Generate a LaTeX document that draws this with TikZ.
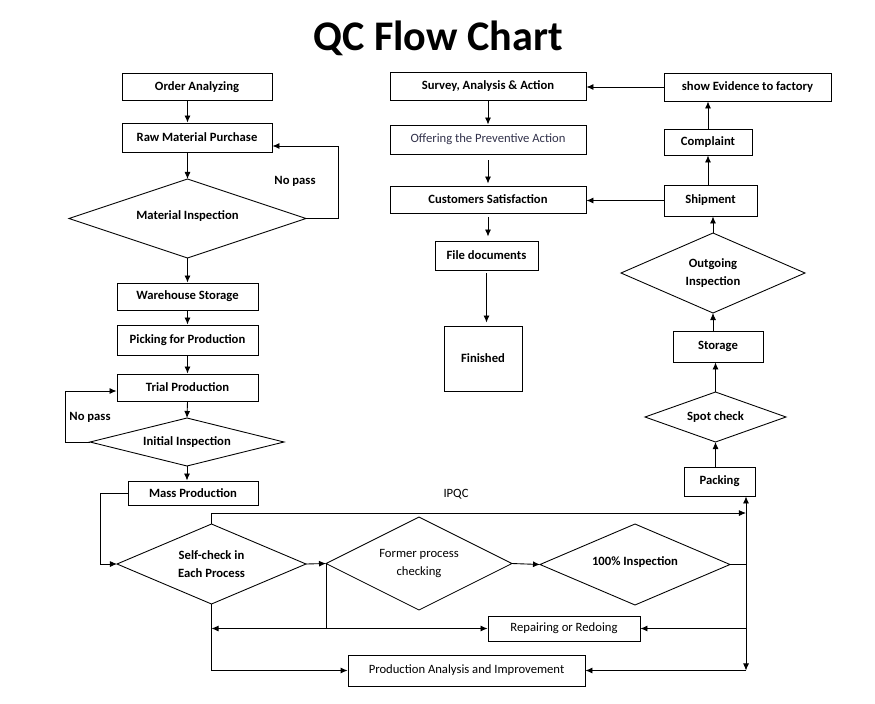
\documentclass[tikz,border=0pt]{standalone}
\usepackage{fontspec}
\setmainfont{Carlito}
\usetikzlibrary{shapes.geometric,arrows.meta}
\definecolor{offergray}{RGB}{50,50,75}

\begin{document}
\begin{tikzpicture}[x=0.02cm, y=-0.02cm, line width=0.5pt,
    >={Latex[length=4pt,width=3.4pt]},
    every node/.style={font=\bfseries\fontsize{7.2}{10.5}\selectfont, align=center},
    lighttext/.style={font=\fontsize{7.2}{10.5}\selectfont},
    box/.style={draw, inner sep=0pt},
    dia/.style={draw, diamond, inner sep=0pt, outer sep=0pt}]

    \useasboundingbox (0,0) rectangle (875,703);

    % Title
    \node (title) at (438,38) {\fontsize{24}{28}\selectfont QC Flow Chart};

    % Left column
    \node[box, minimum width=3cm, minimum height=0.54cm] (order) at (197,87) {Order Analyzing};
    \node[box, minimum width=3cm, minimum height=0.58cm] (raw) at (197,137.5) {Raw Material Purchase};
    \node[dia, shape aspect=3, minimum width=4.74cm, minimum height=1.58cm] (matinsp) at (187.5,218.5) {\raisebox{0.13cm}{Material Inspection}};
    \node[box, minimum width=2.82cm, minimum height=0.54cm] (warehouse) at (187.5,296.5) {Warehouse Storage};
    \node[box, minimum width=2.82cm, minimum height=0.6cm] (picking) at (187.5,340) {Picking for Production};
    \node[box, minimum width=2.82cm, minimum height=0.54cm] (trial) at (187.5,387.5) {Trial Production};
    \node[dia, shape aspect=4, minimum width=3.88cm, minimum height=0.96cm] (initinsp) at (187,442) {Initial Inspection};
    \node[box, minimum width=2.6cm, minimum height=0.48cm] (mass) at (193,493) {Mass Production};

    % Middle column
    \node[box, minimum width=3.92cm, minimum height=0.56cm] (survey) at (488,86) {Survey, Analysis \& Action};
    \node[box, minimum width=3.92cm, minimum height=0.58cm, text=offergray, lighttext] (offering) at (488,139.5) {Offering the Preventive Action};
    \node[box, minimum width=3.92cm, minimum height=0.54cm] (customers) at (488,199.5) {Customers Satisfaction};
    \node[box, minimum width=2.06cm, minimum height=0.58cm] (filedoc) at (486.5,255.5) {File documents};
    \node[box, minimum width=1.56cm, minimum height=1.3cm] (finished) at (483,358.5) {Finished};

    % Right column
    \node[box, minimum width=3.34cm, minimum height=0.56cm] (evidence) at (747.5,87) {show Evidence to factory};
    \node[box, minimum width=1.76cm, minimum height=0.52cm] (complaint) at (708,142) {Complaint};
    \node[box, minimum width=1.86cm, minimum height=0.62cm] (shipment) at (710.5,200.5) {Shipment};
    \node[dia, shape aspect=2.3, minimum width=3.68cm, minimum height=1.6cm] (outgoing) at (713,273) {Outgoing\\Inspection};
    \node[box, minimum width=1.8cm, minimum height=0.62cm] (storage) at (718,346.5) {Storage};
    \node[dia, shape aspect=2.8, minimum width=2.82cm, minimum height=1cm] (spot) at (715.5,417) {Spot check};
    \node[box, minimum width=1.42cm, minimum height=0.58cm] (packing) at (719.5,481.5) {Packing};

    % IPQC row
    \node[dia, shape aspect=2.4, minimum width=3.78cm, minimum height=1.6cm] (selfcheck) at (211.5,564) {Self-check in\\Each Process};
    \node[dia, shape aspect=2, minimum width=3.72cm, minimum height=1.86cm, lighttext] (former) at (419,563.5) {Former process\\checking};
    \node[dia, shape aspect=2.35, minimum width=3.8cm, minimum height=1.62cm] (hundred) at (635,564.5) {\raisebox{0.14cm}{100\% Inspection}};
    \node[box, minimum width=3.04cm, minimum height=0.5cm, lighttext] (repair) at (564,628.5) {Repairing or Redoing};
    \node[box, minimum width=4.74cm, minimum height=0.62cm, lighttext] (analysis) at (466.5,670.5) {Production Analysis and Improvement};
    \coordinate (busbot) at (746,670.5);

    % Labels
    \node (nopassA) at (295,181) {No pass};
    \node (nopassB) at (90,417) {No pass};
    \node[lighttext] (ipqc) at (456,494) {IPQC};

    % Left arrows
    \draw[->] (order.south -| matinsp.north) -- (raw.north -| matinsp.north);
    \draw[->] (raw.south -| matinsp.north) -- (matinsp.north);
    \draw[->] (matinsp.south) -- (warehouse.north);
    \draw[->] (warehouse.south) -- (picking.north);
    \draw[->] (picking.south) -- (trial.north);
    \draw[->] (trial.south) -- (initinsp.north);
    \draw[->] (initinsp.south) -- (initinsp.south |- mass.north);
    \draw[->] (matinsp.east) -- ++(32,0) |- ([yshift=-0.17cm]raw.east);
    \draw[->] (initinsp.west) -- ++(-25,0) |- ([yshift=-0.07cm]trial.west);

    % IPQC arrows
    \draw[->] (mass.west) -- ++(-27,0) |- (selfcheck.west);
    \draw[->] (selfcheck.north) -- ++(0,-11) coordinate (ipqctop) -- (ipqctop -| busbot);
    \draw[->] (selfcheck.east) -- (former.west);
    \draw[->] (former.east) -- (hundred.west);
    \draw (hundred.east) -- (hundred.east -| busbot);
    \draw[<->] (busbot) -- (busbot |- packing.south);
    \draw[<->] (selfcheck.south |- repair.west) -- (repair.west);
    \draw (former.west) -- (former.west |- repair.west);
    \draw[->] (busbot |- repair.east) -- (repair.east);
    \draw[->] (selfcheck.south) |- (analysis.west);
    \draw[->] (busbot) -- (analysis.east);

    % Right arrows
    \draw[->] (packing.north -| spot.south) -- (spot.south);
    \draw[->] (spot.north) -- (spot.north |- storage.south);
    \draw[->] (storage.north -| outgoing.south) -- (outgoing.south);
    \draw[->] (outgoing.north) -- (outgoing.north |- shipment.south);
    \draw[->] (complaint.south |- shipment.north) -- (complaint.south);
    \draw[->] (complaint.north) -- (complaint.north |- evidence.south);
    \draw[->] (evidence.west) -- (evidence.west -| survey.east);
    \draw[->] (shipment.west) -- (shipment.west -| customers.east);

    % Middle arrows
    \draw[->] (survey.south) -- (offering.north);
    \draw[->, shorten <=0.12cm, shorten >=0.04cm] (offering.south) -- (offering.south |- customers.north);
    \draw[->, shorten <=0.08cm, shorten >=0.08cm] (customers.south) -- (customers.south |- filedoc.north);
    \draw[->, shorten <=0.06cm, shorten >=0.06cm] (filedoc.south) -- (filedoc.south |- finished.north);

\end{tikzpicture}
\end{document}
